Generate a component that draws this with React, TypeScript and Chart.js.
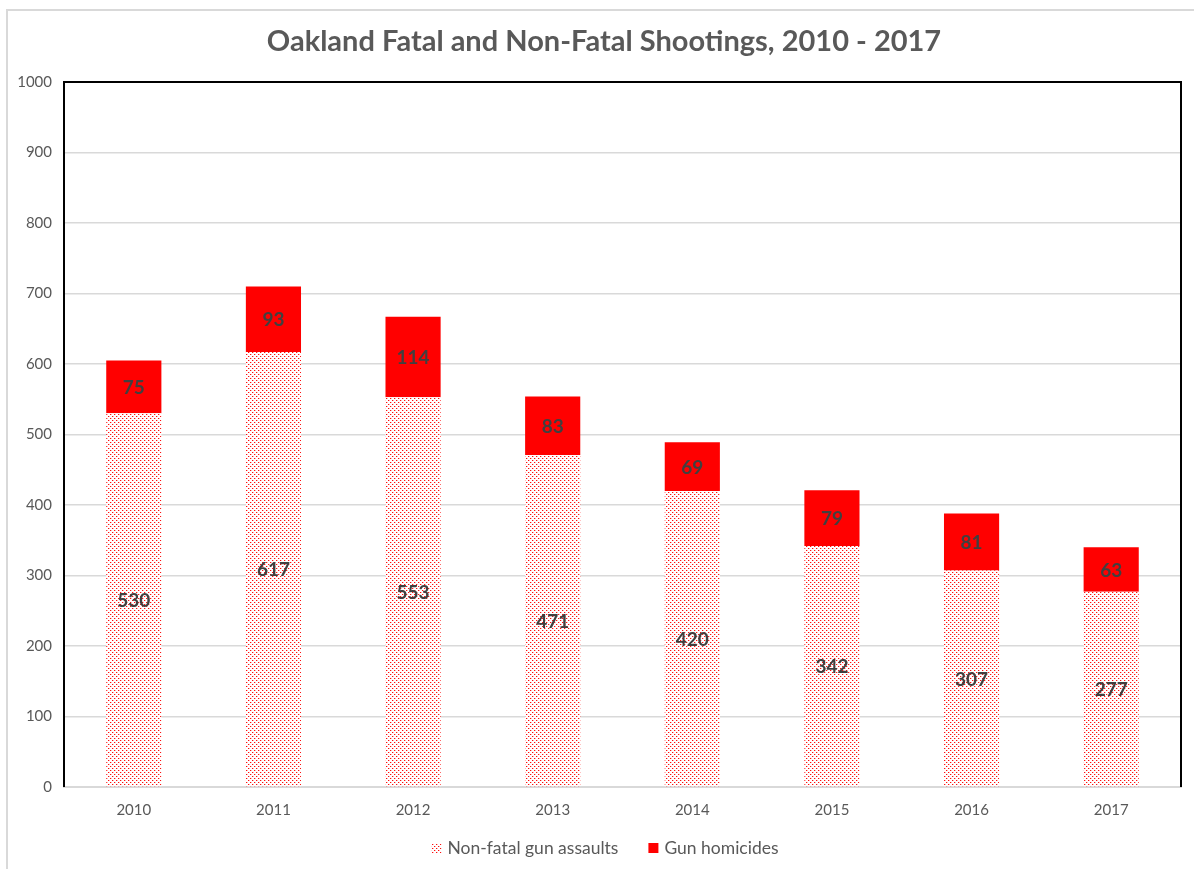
import React, { useEffect, useRef } from "react";
import { Chart, registerables } from "chart.js";

Chart.register(...registerables);

const years = ["2010", "2011", "2012", "2013", "2014", "2015", "2016", "2017"];
const nonFatalAssaults = [530, 617, 553, 471, 420, 342, 307, 277];
const gunHomicides = [75, 93, 114, 83, 69, 79, 81, 63];
const seriesNames = ["Non-fatal gun assaults", "Gun homicides"];
const chartTitle = "Oakland Fatal and Non-Fatal Shootings, 2010 - 2017";
const yMax = 1000;
const yStep = 100;

function makeDotPattern(): CanvasPattern | string {
  const c = document.createElement("canvas");
  c.width = 4;
  c.height = 4;
  const g = c.getContext("2d");
  if (!g) return "#ff9999";
  g.fillStyle = "#ffffff";
  g.fillRect(0, 0, 4, 4);
  g.fillStyle = "#ff1010";
  g.fillRect(0, 0, 1, 1);
  g.fillRect(2, 2, 1, 1);
  g.fillStyle = "#ffb8b8";
  g.fillRect(1, 0, 1, 1);
  g.fillRect(3, 2, 1, 1);
  const p = g.createPattern(c, "repeat");
  return p || "#ff9999";
}

const barLabelPlugin = {
  id: "barLabels",
  afterDatasetsDraw(chart: any) {
    const ctx = chart.ctx;
    ctx.save();
    ctx.font = "bold 19px Lato";
    ctx.fillStyle = "#404040";
    ctx.textAlign = "center";
    ctx.textBaseline = "middle";
    chart.data.datasets.forEach((ds: any, i: number) => {
      const meta = chart.getDatasetMeta(i);
      meta.data.forEach((bar: any, j: number) => {
        const p = bar.getProps(["x", "y", "base"], true);
        ctx.fillText(String(ds.data[j]), p.x, (p.y + p.base) / 2 + 1);
      });
    });
    ctx.restore();
  },
};

const framePlugin = {
  id: "plotFrame",
  afterDatasetsDraw(chart: any) {
    const { left, right, top, bottom } = chart.chartArea;
    const ctx = chart.ctx;
    ctx.save();
    ctx.strokeStyle = "#000000";
    ctx.lineWidth = 2;
    ctx.beginPath();
    ctx.moveTo(left, bottom);
    ctx.lineTo(left, top);
    ctx.lineTo(right, top);
    ctx.lineTo(right, bottom);
    ctx.stroke();
    ctx.restore();
  },
};

const titlePlugin = {
  id: "topTitle",
  afterDraw(chart: any) {
    const ctx = chart.ctx;
    ctx.save();
    ctx.font = "bold 29px Lato";
    ctx.fillStyle = "#595959";
    ctx.textAlign = "center";
    ctx.textBaseline = "middle";
    ctx.fillText(chartTitle, chart.width / 2 + 7, 42);
    ctx.restore();
  },
};

const legendPlugin = {
  id: "bottomLegend",
  afterDraw(chart: any) {
    const ctx = chart.ctx;
    const box = 10;
    const gap = 6;
    const itemGap = 30;
    ctx.save();
    ctx.font = "17.5px Lato";
    ctx.textBaseline = "middle";
    ctx.textAlign = "left";
    const items = chart.data.datasets.map((ds: any) => ({
      label: ds.label,
      fill: ds.backgroundColor,
      w: ctx.measureText(ds.label).width,
    }));
    const total =
      items.reduce((s: number, it: any) => s + box + gap + it.w, 0) + itemGap * (items.length - 1);
    let x = chart.width / 2 + 8 - total / 2;
    const cy = chart.height - 21;
    items.forEach((it: any) => {
      ctx.fillStyle = it.fill;
      ctx.fillRect(x, cy - box / 2, box, box);
      x += box + gap;
      ctx.fillStyle = "#595959";
      ctx.fillText(it.label, x, cy);
      x += it.w + itemGap;
    });
    ctx.restore();
  },
};

export default function App() {
  const ref = useRef<HTMLCanvasElement | null>(null);

  useEffect(() => {
    if (!ref.current) return;
    const pattern = makeDotPattern();
    const chart = new Chart(ref.current, {
      type: "bar",
      data: {
        labels: years,
        datasets: [
          {
            label: seriesNames[0],
            data: nonFatalAssaults,
            backgroundColor: pattern as any,
            borderWidth: 0,
          },
          {
            label: seriesNames[1],
            data: gunHomicides,
            backgroundColor: "#ff0000",
            borderWidth: 0,
          },
        ],
      },
      options: {
        responsive: false,
        animation: false,
        devicePixelRatio: 1,
        layout: { padding: { left: 0, right: 13, top: 82, bottom: 44 } },
        datasets: { bar: { categoryPercentage: 1, barPercentage: 0.395 } },
        scales: {
          x: {
            stacked: true,
            grid: { display: false, drawTicks: false },
            border: { display: true, color: "#d9d9d9", width: 2 },
            ticks: {
              color: "#595959",
              font: { family: "Lato", size: 15 },
              padding: 14,
            },
            afterFit: (s: any) => {
              s.height = 38;
            },
          },
          y: {
            stacked: true,
            min: 0,
            max: yMax,
            grid: { color: "#d9d9d9", lineWidth: 1.5, drawTicks: false },
            border: { display: false },
            ticks: {
              stepSize: yStep,
              color: "#595959",
              font: { family: "Lato", size: 15 },
              padding: 12,
              callback: (v: any) => String(v),
            },
            afterFit: (s: any) => {
              s.width = 64;
            },
          },
        },
        plugins: {
          title: { display: false },
          legend: { display: false },
          tooltip: { enabled: false },
        },
      },
      plugins: [barLabelPlugin, framePlugin, titlePlugin, legendPlugin],
    });
    return () => chart.destroy();
  }, []);

  return (
    <div style={{ position: "fixed", left: 0, top: 0, width: 1194, height: 869, background: "#ffffff", overflow: "hidden" }}>
      <div
        style={{
          position: "absolute",
          left: 6,
          top: 9,
          width: 1300,
          height: 1000,
          borderLeft: "2px solid #d9d9d9",
          borderTop: "2px solid #d9d9d9",
        }}
      />
      <canvas ref={ref} width={1194} height={869} style={{ position: "absolute", left: 0, top: 0 }} />
    </div>
  );
}
